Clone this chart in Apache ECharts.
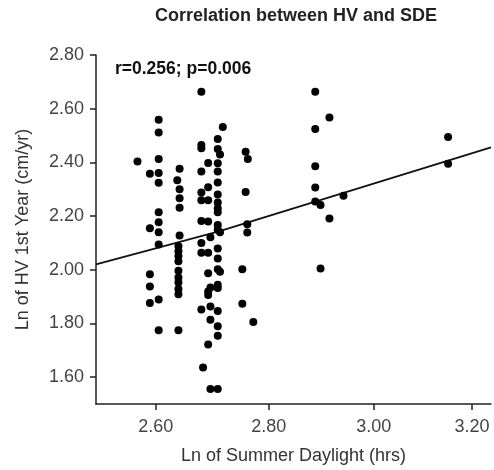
<!DOCTYPE html>
<html><head><meta charset="utf-8">
<script src="https://cdn.jsdelivr.net/npm/echarts@6/dist/echarts.min.js"></script>
<style>html,body{margin:0;padding:0;background:#fff}#c{width:494px;height:470px}</style>
</head><body><div id="c"></div>
<script>
const titleText = 'Correlation between HV and SDE';
const statText = 'r=0.256; p=0.006';
const xName = 'Ln of Summer Daylight (hrs)';
const yName = 'Ln of HV 1st Year (cm/yr)';
const xTicks = [2.60, 2.80, 3.00, 3.20];
const yTicks = [1.60, 1.80, 2.00, 2.20, 2.40, 2.60, 2.80];

// scatter points (Ln daylight, Ln HV)
const xs = [
  2.569,
  2.590, 2.590, 2.590, 2.590, 2.590,
  2.605, 2.605, 2.605, 2.605, 2.605, 2.605, 2.605, 2.605, 2.605, 2.605, 2.605,
  2.637,
  2.641, 2.641, 2.641, 2.641, 2.641,
  2.639, 2.639, 2.639, 2.639, 2.639, 2.639, 2.639, 2.639, 2.639, 2.639,
  2.679, 2.679, 2.679, 2.679, 2.679, 2.679, 2.679, 2.679, 2.679, 2.679,
  2.682,
  2.691, 2.691, 2.691, 2.691, 2.691, 2.691, 2.691, 2.691, 2.691,
  2.695, 2.695, 2.695, 2.695, 2.695,
  2.708, 2.708, 2.708, 2.708, 2.708, 2.708, 2.708, 2.708, 2.708, 2.708,
  2.708, 2.708, 2.708, 2.708, 2.708, 2.708, 2.708, 2.708, 2.708, 2.708,
  2.717,
  2.712, 2.712, 2.712,
  2.752, 2.752,
  2.758, 2.762, 2.758, 2.761, 2.761,
  2.772,
  2.887, 2.887, 2.887, 2.887, 2.887,
  2.897, 2.897,
  2.914, 2.914,
  2.941,
  3.150, 3.150
];
const ys = [
  2.403,
  2.358, 2.155, 1.983, 1.938, 1.876,
  2.559, 2.511, 2.413, 2.360, 2.324, 2.214, 2.177, 2.140, 2.094, 1.889, 1.775,
  2.333,
  2.376, 2.300, 2.266, 2.231, 2.128,
  2.088, 2.069, 2.051, 2.032, 1.996, 1.971, 1.953, 1.928, 1.909, 1.775,
  2.663, 2.465, 2.453, 2.366, 2.288, 2.259, 2.182, 2.100, 2.063, 1.852,
  1.636,
  2.398, 2.307, 2.259, 2.180, 2.063, 1.987, 1.919, 1.906, 1.722,
  2.121, 1.934, 1.863, 1.814, 1.556,
  2.487, 2.450, 2.397, 2.366, 2.325, 2.280, 2.251, 2.229, 2.214, 2.167,
  2.149, 2.079, 2.042, 2.002, 1.944, 1.932, 1.846, 1.790, 1.754, 1.556,
  2.532,
  2.429, 2.140, 1.993,
  2.002, 1.873,
  2.440, 2.413, 2.290, 2.170, 2.139,
  1.805,
  2.663, 2.524, 2.386, 2.306, 2.254,
  2.241, 2.005,
  2.567, 2.191,
  2.276,
  2.495, 2.395
];

// regression line
const fitX = [2.50, 2.71, 3.24];
const fitY = [2.020, 2.143, 2.456];

const points = xs.map((x, i) => [x, ys[i]]);
const fitPts = fitX.map((x, i) => [x, fitY[i]]);

const FONT = '"Liberation Sans", Arial, Helvetica, sans-serif';
const chart = echarts.init(document.getElementById('c'), null, {renderer: 'canvas'});
chart.setOption({
  animation: false,
  backgroundColor: '#fff',
  graphic: [
    {type: 'text', x: 296, y: 7, style: {text: titleText, textAlign: 'center', textVerticalAlign: 'top',
      font: 'bold 18px ' + FONT, fill: '#222'}},
    {type: 'text', x: 115, y: 60, style: {text: statText, textAlign: 'left', textVerticalAlign: 'top',
      font: 'bold 17.5px ' + FONT, fill: '#111'}}
  ],
  grid: {left: 96, right: 3, top: 55, bottom: 63},
  xAxis: {
    type: 'log', logBase: Math.E, min: 2.50, max: 3.24,
    name: xName, nameLocation: 'middle', nameGap: 43,
    nameTextStyle: {fontFamily: FONT, fontSize: 18, color: '#333'},
    axisLine: {show: true, onZero: false, lineStyle: {color: '#222', width: 1.5}},
    axisTick: {show: true, length: 6, customValues: xTicks, lineStyle: {color: '#222', width: 1.5}},
    axisLabel: {customValues: xTicks, margin: 14, fontFamily: FONT, fontSize: 18, color: '#444',
      formatter: v => Number(v).toFixed(2)},
    splitLine: {show: false}, minorTick: {show: false}
  },
  yAxis: {
    type: 'value', min: 1.50, max: 2.80,
    name: yName, nameLocation: 'middle', nameGap: 64,
    nameTextStyle: {fontFamily: FONT, fontSize: 18, color: '#333'},
    axisLine: {show: true, lineStyle: {color: '#222', width: 1.5}},
    axisTick: {show: true, length: 6, customValues: yTicks, lineStyle: {color: '#222', width: 1.5}},
    axisLabel: {customValues: yTicks, margin: 12, fontFamily: FONT, fontSize: 18, color: '#444',
      formatter: v => Number(v).toFixed(2)},
    splitLine: {show: false}
  },
  series: [
    {type: 'scatter', data: points, symbol: 'circle', symbolSize: 8,
      itemStyle: {color: '#000', opacity: 1}},
    {type: 'line', data: fitPts, symbol: 'none', z: 1,
      lineStyle: {color: '#111', width: 1.8}}
  ]
});
</script></body></html>
